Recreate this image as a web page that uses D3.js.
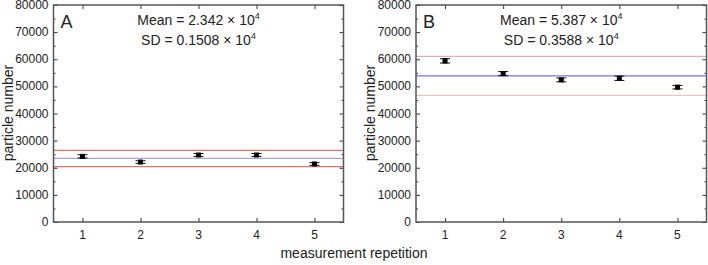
<!DOCTYPE html>
<html>
<head>
<meta charset="utf-8">
<style>
body { margin: 0; background: #fff; }
text { font-family: "Liberation Sans", Arial, sans-serif; fill: #222; }
</style>
</head>
<body>
<svg width="708" height="265"></svg>
<script src="https://cdn.jsdelivr.net/npm/d3@7"></script>
<script>

var reps = [1, 2, 3, 4, 5];
var valuesA = [24200, 22100, 24700, 24700, 21400];
var errorsA = [600, 500, 550, 550, 500];
var valuesB = [59400, 54700, 52400, 53000, 49700];
var errorsB = [800, 750, 700, 800, 650];
var meanA = 23420, sdA = 1508;
var meanB = 53870, sdB = 3588;
var yTicks = [0, 10000, 20000, 30000, 40000, 50000, 60000, 70000, 80000];

var svg = d3.select("svg");

function drawPanel(o) {
  var x = d3.scaleLinear().domain([0.5, 5.5]).range([o.left, o.right]),
      y = d3.scaleLinear().domain([0, 80000]).range([222, 5]);

  var g = svg.append("g");

  // reference lines: mean and mean +/- 2 SD
  var lines = [
    { v: o.mean + 2 * o.sd, c: o.upper },
    { v: o.mean - 2 * o.sd, c: o.lower },
    { v: o.mean, c: o.blue }
  ];
  g.selectAll(".ref").data(lines).enter().append("line")
      .attr("x1", o.left).attr("x2", o.right)
      .attr("y1", function(d) { return y(d.v); })
      .attr("y2", function(d) { return y(d.v); })
      .attr("stroke", function(d) { return d.c; })
      .attr("stroke-width", 1.2);

  // axes, ticks inward and mirrored
  var minor = d3.range(5000, 80000, 10000);
  g.append("g").attr("transform", "translate(" + o.left + ",0)")
      .call(d3.axisRight(y).tickValues(minor).tickSize(2).tickFormat(""));
  g.append("g").attr("transform", "translate(" + o.right + ",0)")
      .call(d3.axisLeft(y).tickValues(minor).tickSize(2).tickFormat(""));
  g.append("g").attr("transform", "translate(" + o.right + ",0)")
      .call(d3.axisLeft(y).tickValues(yTicks).tickSize(4).tickFormat(""));
  g.append("g").attr("transform", "translate(" + o.left + ",0)")
      .call(d3.axisRight(y).tickValues(yTicks).tickSize(4).tickFormat(""));
  g.append("g").attr("transform", "translate(0,5)")
      .call(d3.axisBottom(x).tickValues(reps).tickSize(4).tickFormat(""));
  g.append("g").attr("transform", "translate(0,222)")
      .call(d3.axisTop(x).tickValues(reps).tickSize(4).tickFormat(""));
  g.selectAll(".domain").remove();
  g.selectAll(".tick line").attr("stroke", "#333");

  // frame
  g.append("rect")
      .attr("x", o.left).attr("y", 5)
      .attr("width", o.right - o.left).attr("height", 217)
      .attr("fill", "none").attr("stroke", "#555").attr("stroke-width", 1.5);

  // tick labels
  g.selectAll(".yl").data(yTicks).enter().append("text")
      .attr("x", o.left - 5).attr("y", function(d) { return y(d) + 4; })
      .attr("text-anchor", "end").style("font-size", "12px")
      .text(function(d) { return d; });
  g.selectAll(".xl").data(reps).enter().append("text")
      .attr("x", function(d) { return x(d); }).attr("y", 239)
      .attr("text-anchor", "middle").style("font-size", "12px")
      .text(function(d) { return d; });

  g.append("text")
      .attr("transform", "translate(" + (o.left - 41) + ",113) rotate(-90)")
      .attr("text-anchor", "middle").style("font-size", "14px")
      .text("particle number");

  // error bars and markers
  var pts = reps.map(function(r, i) { return { r: r, v: o.values[i], e: o.errors[i] }; });
  var pg = g.selectAll(".pt").data(pts).enter().append("g");
  pg.append("line")
      .attr("x1", function(d) { return x(d.r); }).attr("x2", function(d) { return x(d.r); })
      .attr("y1", function(d) { return y(d.v - d.e); }).attr("y2", function(d) { return y(d.v + d.e); })
      .attr("stroke", "#111");
  [-1, 1].forEach(function(s) {
    pg.append("line")
        .attr("x1", function(d) { return x(d.r) - 5; }).attr("x2", function(d) { return x(d.r) + 5; })
        .attr("y1", function(d) { return y(d.v + s * d.e); }).attr("y2", function(d) { return y(d.v + s * d.e); })
        .attr("stroke", "#111");
  });
  pg.append("rect")
      .attr("x", function(d) { return x(d.r) - 2.5; }).attr("y", function(d) { return y(d.v) - 2.5; })
      .attr("width", 5).attr("height", 5).attr("fill", "#000");

  // annotations
  g.append("text").attr("x", o.left + 7).attr("y", 28)
      .style("font-size", "18px").text(o.label);
  var cx = (o.left + o.right) / 2;
  var t1 = g.append("text").attr("x", cx).attr("y", 25)
      .attr("text-anchor", "middle").style("font-size", "14px");
  t1.append("tspan").text("Mean = " + o.meanText + " \u00d7 10");
  t1.append("tspan").attr("dy", -6).style("font-size", "9px").text("4");
  var t2 = g.append("text").attr("x", cx).attr("y", 45)
      .attr("text-anchor", "middle").style("font-size", "14px");
  t2.append("tspan").text("SD = " + o.sdText + " \u00d7 10");
  t2.append("tspan").attr("dy", -6).style("font-size", "9px").text("4");
}

drawPanel({ left: 53.5, right: 343.5, values: valuesA, errors: errorsA,
  mean: meanA, sd: sdA, label: "A", meanText: "2.342", sdText: "0.1508",
  upper: "#e07474", lower: "#e07474", blue: "#a4a4ec" });

drawPanel({ left: 416, right: 706.5, values: valuesB, errors: errorsB,
  mean: meanB, sd: sdB, label: "B", meanText: "5.387", sdText: "0.3588",
  upper: "#d8b4b4", lower: "#f5c2c2", blue: "#7474f4" });

svg.append("text")
    .attr("x", 354).attr("y", 258)
    .attr("text-anchor", "middle").style("font-size", "14px")
    .text("measurement repetition");

</script>
</body>
</html>
